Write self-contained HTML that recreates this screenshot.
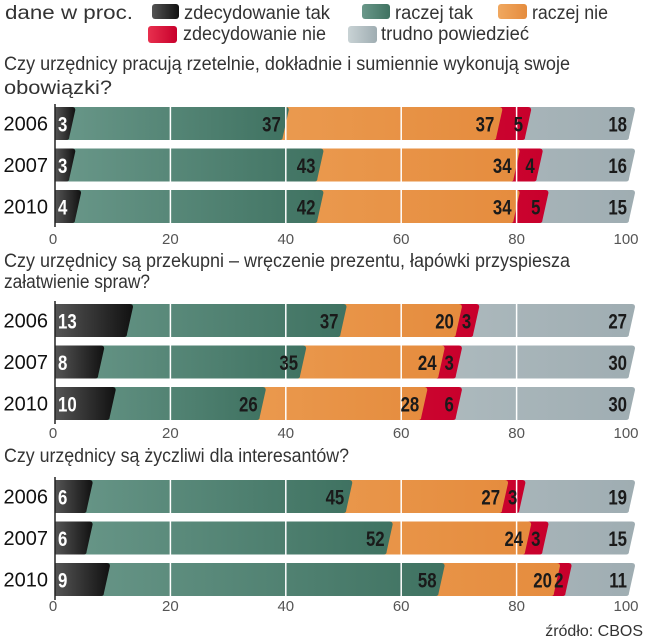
<!DOCTYPE html>
<html><head><meta charset="utf-8"><style>
html,body{margin:0;padding:0;background:#fff}
svg{display:block}
text{font-family:"Liberation Sans",sans-serif}
</style></head><body>
<svg id="chart" width="645" height="640" viewBox="0 0 645 640" xmlns="http://www.w3.org/2000/svg">
<defs>
<linearGradient id="g0" x1="0" x2="1"><stop offset="0" stop-color="#555"/><stop offset="1" stop-color="#111"/></linearGradient>
<linearGradient id="g1" x1="0" x2="1"><stop offset="0" stop-color="#6a988a"/><stop offset="1" stop-color="#3f7261"/></linearGradient>
<linearGradient id="g2" x1="0" x2="1"><stop offset="0" stop-color="#f0a860"/><stop offset="1" stop-color="#e58c3e"/></linearGradient>
<linearGradient id="g3" x1="0" x2="1"><stop offset="0" stop-color="#e8304e"/><stop offset="1" stop-color="#c8002c"/></linearGradient>
<linearGradient id="g4" x1="0" x2="1"><stop offset="0" stop-color="#c9d3d5"/><stop offset="1" stop-color="#9fadb2"/></linearGradient>
</defs>
<g>
<text x="5" y="19" font-size="19" fill="#333" textLength="128" lengthAdjust="spacingAndGlyphs">dane w proc.</text>
<rect x="152" y="4" width="27" height="15" rx="3" fill="url(#g0)"/>
<text x="184" y="19" font-size="19" fill="#333" textLength="146" lengthAdjust="spacingAndGlyphs">zdecydowanie tak</text>
<rect x="362" y="4" width="28" height="15" rx="3" fill="url(#g1)"/>
<text x="395" y="19" font-size="19" fill="#333" textLength="78" lengthAdjust="spacingAndGlyphs">raczej tak</text>
<rect x="498" y="4" width="29" height="15" rx="3" fill="url(#g2)"/>
<text x="532" y="19" font-size="19" fill="#333" textLength="76" lengthAdjust="spacingAndGlyphs">raczej nie</text>
<rect x="148" y="26" width="29" height="17" rx="3" fill="url(#g3)"/>
<text x="183" y="40" font-size="19" fill="#333" textLength="143" lengthAdjust="spacingAndGlyphs">zdecydowanie nie</text>
<rect x="348" y="26" width="29" height="17" rx="3" fill="url(#g4)"/>
<text x="381" y="40" font-size="19" fill="#333" textLength="148" lengthAdjust="spacingAndGlyphs">trudno powiedzieć</text>
</g>
<g id="panels"></g>
<text x="643" y="636" font-size="16" fill="#333" text-anchor="end">źródło: CBOS</text>
</svg>
<script>
const categories = ["zdecydowanie tak","raczej tak","raczej nie","zdecydowanie nie","trudno powiedzieć"];
const years = ["2006","2007","2010"];
const tickLabels = [0,20,40,60,80,100];
const q1Title = ["Czy urzędnicy pracują rzetelnie, dokładnie i sumiennie wykonują swoje","obowiązki?"];
const q1Values = [[3,37,37,5,18],[3,43,34,4,16],[4,42,34,5,15]];
const q2Title = ["Czy urzędnicy są przekupni – wręczenie prezentu, łapówki przyspiesza","załatwienie spraw?"];
const q2Values = [[13,37,20,3,27],[8,35,24,3,30],[10,26,28,6,30]];
const q3Title = ["Czy urzędnicy są życzliwi dla interesantów?"];
const q3Values = [[6,45,27,3,19],[6,52,24,3,15],[9,58,20,2,11]];

const NS="http://www.w3.org/2000/svg";
const X0=55, X1=632;
function xScale(v){return X0+(X1-X0)*v/100;}
function mk(tag,attrs,parent){const e=document.createElementNS(NS,tag);for(const k in attrs)e.setAttribute(k,attrs[k]);parent.appendChild(e);return e;}
const root=document.getElementById('panels');
const panels=[
 {title:q1Title,values:q1Values,titleY:[70,94],titleLen:[566,108],barY:107,tickY:244},
 {title:q2Title,values:q2Values,titleY:[267,288],titleLen:[566,146],barY:304,tickY:438},
 {title:q3Title,values:q3Values,titleY:[462],titleLen:[345],barY:480,tickY:611}
];
const fills=["url(#g0)","url(#g1)","url(#g2)","url(#g3)","url(#g4)"];
const BH=33, STEP=41.5, SL=3;
panels.forEach((p,pi)=>{
  const g=mk('g',{},root);
  
  
  p.title.forEach((t,i)=>{
    const tx=mk('text',{x:4,y:p.titleY[i],'font-size':19,fill:'#333',textLength:p.titleLen[i],lengthAdjust:'spacingAndGlyphs'},g);
    
    
    tx.textContent=t;
  });
  p.values.forEach((row,ri)=>{
    const y=p.barY+ri*STEP;
    const yl=mk('text',{x:48,y:y+BH/2+7,'font-size':20,fill:'#111','text-anchor':'end'},g);
    
    
    yl.textContent=years[ri];
    const cum=[];let s=0;row.forEach(v=>{s+=v;cum.push(s);});
    for(let i=row.length-1;i>=0;i--){
      const xe=xScale(cum[i]);
      const d=`M${X0},${y} L${xe+SL-3},${y} Q${xe+SL},${y} ${xe+SL},${y+3} L${xe-SL},${y+BH-3} Q${xe-SL},${y+BH} ${xe-SL-3},${y+BH} L${X0},${y+BH} Z`;
      const seg=mk('path',{d:d,fill:fills[i]},g);
      
      
    }
    [20,40,60,80].forEach(t=>{
      const gl=mk('line',{x1:xScale(t),x2:xScale(t),y1:y,y2:y+BH,stroke:'#fff','stroke-width':1.5},g);
      
      
    });
    row.forEach((v,i)=>{
      let x,anchor,fill='#1a1a1a';
      if(i===0){x=xScale(0)+3;anchor='start';fill='#fff';}
      else if(i===row.length-1){x=xScale(100)-5;anchor='end';}
      else {x=xScale(cum[i])-5;anchor='end';}
      const lt=mk('text',{x:x,y:y+BH/2+8,'font-size':21,'font-weight':'bold',fill:fill,'text-anchor':anchor,transform:`translate(${x},0) scale(0.8,1) translate(${-x},0)`},g);
      
      
      lt.textContent=v;
    });
  });
  const ax=mk('line',{x1:X0,x2:X0,y1:p.barY-3,y2:p.barY+2*STEP+BH+4,stroke:'#222','stroke-width':1.5},g);
  
  
  tickLabels.forEach(t=>{
    let x=xScale(t); if(t===100)x-=6; if(t===0)x-=2;
    const tl=mk('text',{x:x,y:p.tickY,'font-size':15,fill:'#555','text-anchor':'middle'},g);
    
    
    tl.textContent=t;
  });
});
</script>
</body></html>
